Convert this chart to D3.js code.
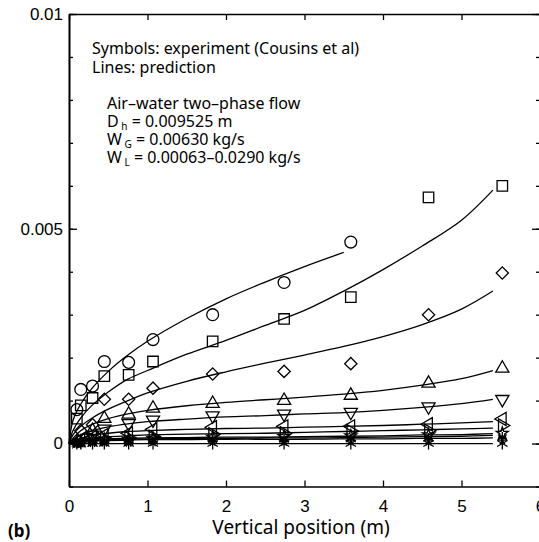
<!DOCTYPE html>
<html>
<head>
<meta charset="utf-8">
<script src="https://cdn.jsdelivr.net/npm/d3@7"></script>
<style>
  body { margin: 0; background: #fff; }
  svg { font-family: "Noto Sans", "DejaVu Sans", sans-serif; }
</style>
</head>
<body>
<svg id="chart"></svg>
<script>
/* measurement positions (m) for the experimental points */
var xPoints = [0.10, 0.15, 0.30, 0.45, 0.76, 1.07, 1.83, 2.74, 3.59, 4.58, 5.52];

/* experimental values per symbol series (null = no point) */
var circleVals   = [0.00079, 0.00126, 0.00134, 0.00191, 0.00189, 0.00242, 0.0030, 0.00375, 0.00469, null, null];
var squareVals   = [0.00058, 0.00089, 0.00106, 0.00157, 0.0016, 0.00191, 0.00238, 0.0029, 0.00341, 0.00573, 0.0060];
var diamondVals  = [null, 0.0003, 0.00044, 0.00103, 0.00103, 0.00129, 0.00162, 0.00168, 0.00186, 0.0030, 0.00397];
var triUpVals    = [null, null, 0.0003, 0.00058, 0.00068, 0.00082, 0.00093, 0.0010, 0.00112, 0.0014, 0.00175];
var triDownVals  = [null, null, 0.0002, 0.00034, 0.00047, 0.00055, 0.00065, 0.00069, 0.00073, 0.00086, 0.00103];
var triLeftVals  = [null, 0.0001, 0.00015, 0.0002, 0.00024, 0.00033, 0.00038, 0.0004, 0.0004, 0.00045, 0.00057];
var triRightVals = [null, 0.00006, 0.0001, 0.00012, 0.00013, 0.00016, 0.00022, 0.00024, 0.00029, 0.0003, 0.00042];
var star1Vals    = [0.00003, 0.00005, 0.00008, 0.0001, 0.0001, 0.00012, 0.00015, 0.00016, 0.00018, 0.0002, 0.00024];
var star2Vals    = [0.00002, 0.00003, 0.00005, 0.00006, 0.00007, 0.00008, 0.0001, 0.00011, 0.00012, 0.00013, 0.00015];
var star3Vals    = [0, 0.00001, 0.00002, 0.00003, 0.00003, 0.00004, 0.00005, 0.00005, 0.00006, 0.00006, 0.00008];
var star4Vals    = [0, 0, 0, 0, 0, 0, 0, 0, 0, 0, 0];

/* prediction lines */
var xLine = [0, 0.05, 0.15, 0.3, 0.5, 0.75, 1, 1.5, 2, 2.5, 3, 3.5, 4, 4.5, 5, 5.4];
var line1 = [0, 0.00053, 0.00092, 0.0013, 0.00168, 0.00206, 0.00238, 0.00291, 0.00337, 0.00376, 0.00412, 0.00445];
var line2 = [0, 0.0003, 0.0006, 0.0009, 0.0012, 0.0015, 0.0017, 0.00208, 0.0024, 0.00275, 0.0031, 0.00355, 0.00405, 0.0046, 0.0052, 0.0059];
var line3 = [0, 0.0002, 0.0004, 0.0006, 0.0008, 0.001, 0.00118, 0.00145, 0.00167, 0.00187, 0.00206, 0.00226, 0.00249, 0.00277, 0.00313, 0.00355];
var line4 = [0, 0.00012, 0.0003, 0.00045, 0.00058, 0.00069, 0.00077, 0.00088, 0.00096, 0.00102, 0.00108, 0.00115, 0.00124, 0.00136, 0.00151, 0.0017];
var line5 = [0, 0.00008, 0.0002, 0.0003, 0.00039, 0.00046, 0.00051, 0.00057, 0.00062, 0.00065, 0.00069, 0.00072, 0.00077, 0.00084, 0.00093, 0.00103];
var line6 = [0, 0.00005, 0.00012, 0.00019, 0.00024, 0.00028, 0.0003, 0.00033, 0.00035, 0.00036, 0.00038, 0.0004, 0.00042, 0.00045, 0.00048, 0.00051];
var line7 = [0, 0.00004, 0.00009, 0.00013, 0.00016, 0.00018, 0.0002, 0.00022, 0.00023, 0.00024, 0.00026, 0.00028, 0.0003, 0.00032, 0.00034, 0.00036];
var line8 = [0, 0.00003, 0.00006, 0.00009, 0.00011, 0.00012, 0.00013, 0.00014, 0.00015, 0.00015, 0.00016, 0.00017, 0.00018, 0.0002, 0.00021, 0.00023];
var line9 = [0, 0.00002, 0.00005, 0.00007, 0.00009, 0.0001, 0.00011, 0.00012, 0.00012, 0.00013, 0.00013, 0.00014, 0.00015, 0.00016, 0.00017, 0.00019];
var line10 = [0, 0.00002, 0.00004, 0.00006, 0.00007, 0.00008, 0.00009, 0.00009, 0.0001, 0.0001, 0.0001, 0.00011, 0.00011, 0.00012, 0.00012, 0.00013];
var line11 = [0, 0, 0, 0, 0, 0, 0, 0, 0, 0, 0, 0, 0, 0, 0, 0];

var xTicks = [0, 1, 2, 3, 4, 5, 6];
var yTicks = [0, 0.005, 0.01];
var yTickLabels = ["0", "0.005", "0.01"];

var width = 539, height = 542;
var svg = d3.select("#chart").attr("width", width).attr("height", height);
svg.append("rect").attr("width", width).attr("height", height).attr("fill", "#fff");

var x = d3.scaleLinear().domain([0, 6]).range([69, 540]);
var y = d3.scaleLinear().domain([-0.001, 0.01]).range([486.5, 14]);
var yMinor = d3.range(-1, 11).map(function(k) { return k / 1000; });

/* frame + axes, ticks pointing inward */
svg.append("g").attr("transform", "translate(0," + y(-0.001) + ")")
    .call(d3.axisBottom(x).tickValues(xTicks).tickSizeInner(-6).tickSizeOuter(0).tickPadding(13).tickFormat(d3.format("d")));
svg.append("g").attr("transform", "translate(0," + y(0.01) + ")")
    .call(d3.axisTop(x).tickValues(xTicks).tickSizeInner(-6).tickSizeOuter(0).tickFormat(""));
svg.append("g").attr("transform", "translate(" + x(0) + ",0)")
    .call(d3.axisLeft(y).tickValues(yTicks).tickSizeInner(-8).tickSizeOuter(0).tickPadding(6)
      .tickFormat(function(d, i) { return yTickLabels[i]; }));
svg.append("g").attr("transform", "translate(" + x(0) + ",0)")
    .call(d3.axisLeft(y).tickValues(yMinor).tickSizeInner(-4).tickSizeOuter(0).tickFormat(""));
svg.append("g").attr("transform", "translate(" + x(6) + ",0)")
    .call(d3.axisRight(y).tickValues(yTicks).tickSizeInner(-8).tickSizeOuter(0).tickFormat(""));
svg.append("g").attr("transform", "translate(" + x(6) + ",0)")
    .call(d3.axisRight(y).tickValues(yMinor).tickSizeInner(-4).tickSizeOuter(0).tickFormat(""));

svg.selectAll(".domain").attr("stroke", "#000").attr("stroke-width", 1.6);
svg.selectAll(".tick line").attr("stroke", "#000").attr("stroke-width", 1.3);
svg.selectAll(".tick text").attr("fill", "#000").style("font-size", "17px");

/* prediction lines */
var lines = [line1, line2, line3, line4, line5, line6, line7, line8, line9, line10, line11];
var lineGen = d3.line()
    .x(function(d) { return x(d[0]); })
    .y(function(d) { return y(d[1]); })
    .curve(d3.curveCatmullRom.alpha(0.5));

svg.append("g").selectAll("path")
  .data(lines)
  .enter().append("path")
    .attr("d", function(vals) { return lineGen(vals.map(function(v, i) { return [xLine[i], v]; })); })
    .attr("fill", "none")
    .attr("stroke", "#000")
    .attr("stroke-width", 1.3);

/* experimental symbols */
function asterisk(r) {
  var p = "";
  for (var k = 0; k < 3; k++) {
    var a = Math.PI / 2 + k * Math.PI / 3;
    p += "M" + (r * Math.cos(a)) + "," + (r * Math.sin(a)) + "L" + (-r * Math.cos(a)) + "," + (-r * Math.sin(a));
  }
  return p;
}
var series = [
  {vals: circleVals,   path: d3.symbol(d3.symbolCircle, 110)(), rot: 0},
  {vals: squareVals,   path: d3.symbol(d3.symbolSquare, 110)(), rot: 0},
  {vals: diamondVals,  path: d3.symbol(d3.symbolSquare, 75)(), rot: 45},
  {vals: triUpVals,    path: d3.symbol(d3.symbolTriangle, 75)(), rot: 0},
  {vals: triDownVals,  path: d3.symbol(d3.symbolTriangle, 75)(), rot: 180},
  {vals: triLeftVals,  path: d3.symbol(d3.symbolTriangle, 75)(), rot: -90},
  {vals: triRightVals, path: d3.symbol(d3.symbolTriangle, 75)(), rot: 90},
  {vals: star1Vals,    path: d3.symbol(d3.symbolStar, 45)(), rot: 0},
  {vals: star2Vals,    path: asterisk(5), rot: 0},
  {vals: star3Vals,    path: asterisk(5), rot: 90},
  {vals: star4Vals,    path: asterisk(6), rot: 0}
];

series.forEach(function(s) {
  var pts = s.vals.map(function(v, i) { return [xPoints[i], v]; }).filter(function(d) { return d[1] !== null; });
  svg.append("g").selectAll("path")
    .data(pts)
    .enter().append("path")
      .attr("transform", function(d) { return "translate(" + x(d[0]) + "," + y(d[1]) + ") rotate(" + s.rot + ")"; })
      .attr("d", s.path)
      .attr("fill", "none")
      .attr("stroke", "#000")
      .attr("stroke-width", 1.3);
});

/* annotation text */
var note = svg.append("g").style("font-size", "16px").attr("fill", "#000");
note.append("text").attr("x", 92).attr("y", 54).text("Symbols: experiment (Cousins et al)");
note.append("text").attr("x", 92).attr("y", 73).text("Lines: prediction");
note.append("text").attr("x", 107).attr("y", 109).text("Air\u2013water two\u2013phase flow");

var t1 = note.append("text").attr("x", 107).attr("y", 127);
t1.append("tspan").text("D");
t1.append("tspan").attr("dy", 3).style("font-size", "10px").text(" h");
t1.append("tspan").attr("dy", -3).text(" = 0.009525 m");
var t2 = note.append("text").attr("x", 107).attr("y", 145);
t2.append("tspan").text("W");
t2.append("tspan").attr("dy", 3).style("font-size", "10px").text(" G");
t2.append("tspan").attr("dy", -3).text(" = 0.00630  kg/s");
var t3 = note.append("text").attr("x", 107).attr("y", 163);
t3.append("tspan").text("W");
t3.append("tspan").attr("dy", 3).style("font-size", "10px").text(" L");
t3.append("tspan").attr("dy", -3).text(" = 0.00063\u20130.0290 kg/s");

/* axis title and panel label */
svg.append("text").attr("x", 301).attr("y", 534).attr("text-anchor", "middle")
    .style("font-size", "19px").attr("fill", "#000").text("Vertical position (m)");
svg.append("text").attr("x", 8).attr("y", 537)
    .style("font-size", "17px").style("font-weight", "bold").attr("fill", "#000").text("(b)");
</script>
</body>
</html>
